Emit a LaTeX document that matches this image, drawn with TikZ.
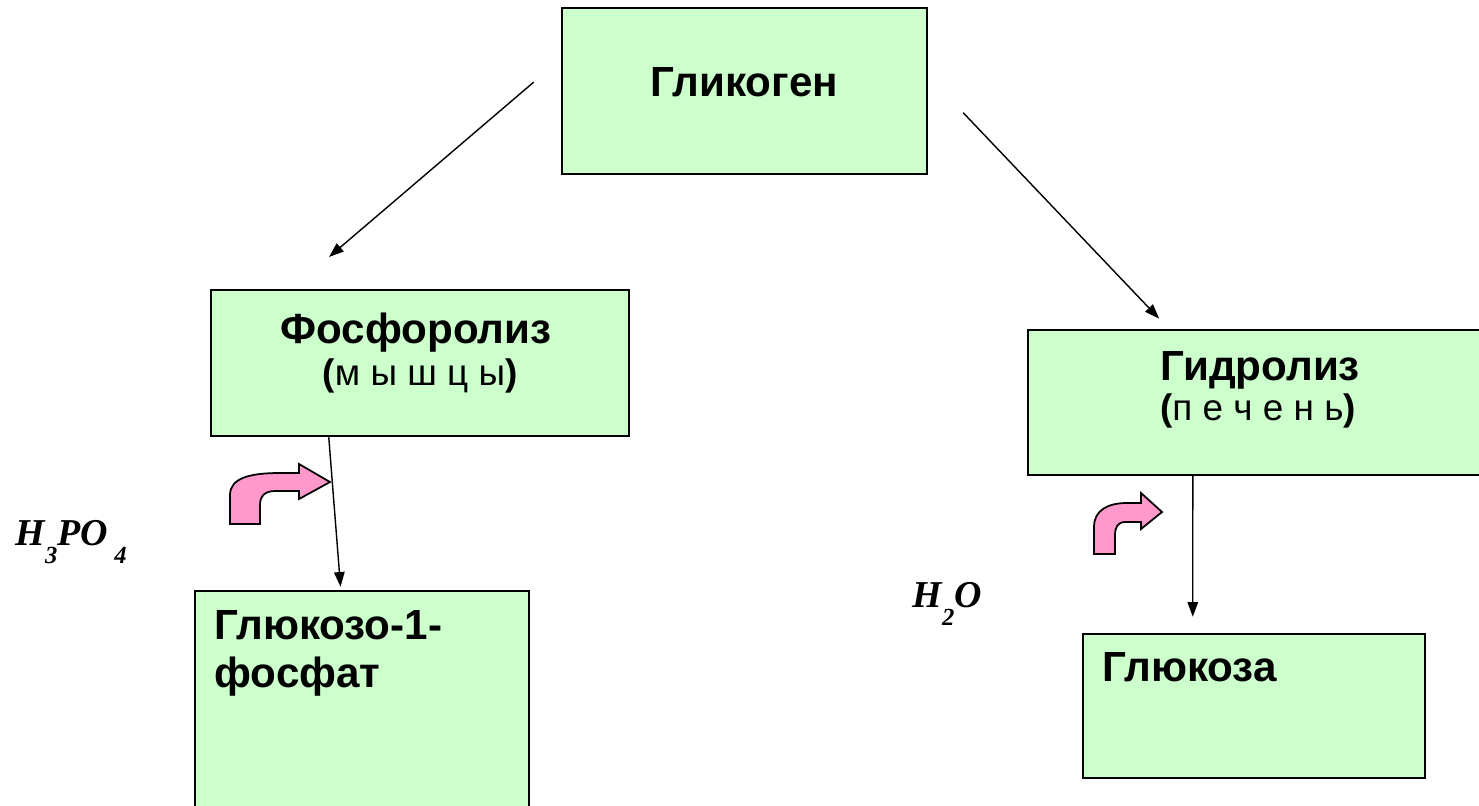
\documentclass[tikz,border=0pt]{standalone}
\usepackage{fontspec}
\setmainfont{Liberation Sans}
\newfontfamily\formfont{Liberation Serif}
\usetikzlibrary{arrows.meta}

\definecolor{boxgreen}{HTML}{CCFFCC}
\definecolor{bentpink}{HTML}{FF99CC}

\newcommand{\chemsub}[1]{\raisebox{-5.4pt}{\fontsize{7}{8}\selectfont #1}}

\tikzset{
	stagebox/.style={draw, line width=0.7pt, fill=boxgreen, inner sep=0pt},
	titletext/.style={font=\fontsize{12}{13.7}\selectfont\bfseries, inner sep=0pt},
	placetext/.style={font=\fontsize{10.5}{12}\selectfont, inner sep=0pt},
	conn/.style={draw, line width=0.4pt, -{Triangle[length=4.2pt,width=3pt]}},
	bentarrow/.style={draw, line width=0.5pt, fill=bentpink, line join=miter},
	chemtext/.style={font=\formfont\fontsize{10.8}{12}\selectfont\bfseries\itshape, inner sep=0pt}
}

\begin{document}
\begin{tikzpicture}
	\clip (0,0) rectangle (14.79,-8.05);

	% boxes
	\node (glyc) at (7.445,-0.91) [stagebox, minimum width=3.65cm, minimum height=1.66cm] {};
	\node (fos) at (4.20,-3.63) [stagebox, minimum width=4.18cm, minimum height=1.46cm] {};
	\node (hyd) at (12.60,-4.025) [stagebox, minimum width=4.64cm, minimum height=1.45cm] {};
	\node (g1p) at (3.62,-7.055) [stagebox, minimum width=3.34cm, minimum height=2.29cm] {};
	\node (glu) at (12.54,-7.06) [stagebox, minimum width=3.42cm, minimum height=1.44cm] {};

	% texts
	\node (glyctext) at ([yshift=-0.90cm]glyc.north) [titletext, anchor=base] {Гликоген};
	\node (fostext) at ([xshift=-0.04cm, yshift=-0.55cm]fos.north) [titletext, anchor=base] {Фосфоролиз};
	\node (fosplace) at ([yshift=-0.97cm]fos.north) [placetext, anchor=base] {\textbf{(}м ы ш ц ы\textbf{)}};
	\node (hydtext) at ([yshift=-0.52cm]hyd.north) [titletext, anchor=base] {Гидролиз};
	\node (hydplace) at ([xshift=-0.02cm, yshift=-0.92cm]hyd.north) [placetext, anchor=base] {\textbf{(}п е ч е н ь\textbf{)}};
	\node (g1ptext) at ([xshift=0.20cm, yshift=-0.20cm]g1p.north west) [titletext, anchor=north west, align=left] {Глюкозо-1-\\фосфат};
	\node (glutext) at ([xshift=0.20cm, yshift=-0.49cm]glu.north west) [titletext, anchor=base west] {Глюкоза};

	% connectors
	\draw [conn, shorten <=0.355cm, shorten >=0.49cm] ([yshift=0.32cm]glyc.west) -- ([xshift=0.82cm]fos.north west);
	\draw [conn, shorten <=0.506cm, shorten >=0.139cm] ([yshift=0.15cm]glyc.east) -- ([xshift=1.42cm]hyd.north west);
	\draw [conn, shorten >=0.03cm] ([xshift=1.19cm]fos.south west) -- ([xshift=1.47cm]g1p.north west);
	\draw [conn, shorten >=0.16cm] ([xshift=1.66cm]hyd.south west) -- ([xshift=1.11cm]glu.north west);

	% bent arrows
	\path [bentarrow] (2.30,-5.24) -- (2.30,-4.95) .. controls (2.30,-4.78) and (2.50,-4.73) .. (2.80,-4.73) -- (2.99,-4.73) -- (2.99,-4.64) -- (3.30,-4.82) -- (2.99,-4.99) -- (2.99,-4.91) -- (2.75,-4.91) .. controls (2.65,-4.91) and (2.60,-4.96) .. (2.60,-5.05) -- (2.60,-5.24) -- cycle;
	\path [bentarrow] (10.94,-5.54) -- (10.94,-5.27) .. controls (10.94,-5.10) and (11.08,-5.03) .. (11.27,-5.03) -- (11.41,-5.03) -- (11.41,-4.93) -- (11.62,-5.12) -- (11.41,-5.29) -- (11.41,-5.22) -- (11.25,-5.22) .. controls (11.18,-5.22) and (11.15,-5.27) .. (11.15,-5.35) -- (11.15,-5.54) -- cycle;

	% reagents
	\node (phosacid) at (0.15,-5.45) [chemtext, anchor=base west] {H\chemsub{3}PO\,\chemsub{4}};
	\node (water) at (9.12,-6.07) [chemtext, anchor=base west] {H\chemsub{2}O};
\end{tikzpicture}
\end{document}
